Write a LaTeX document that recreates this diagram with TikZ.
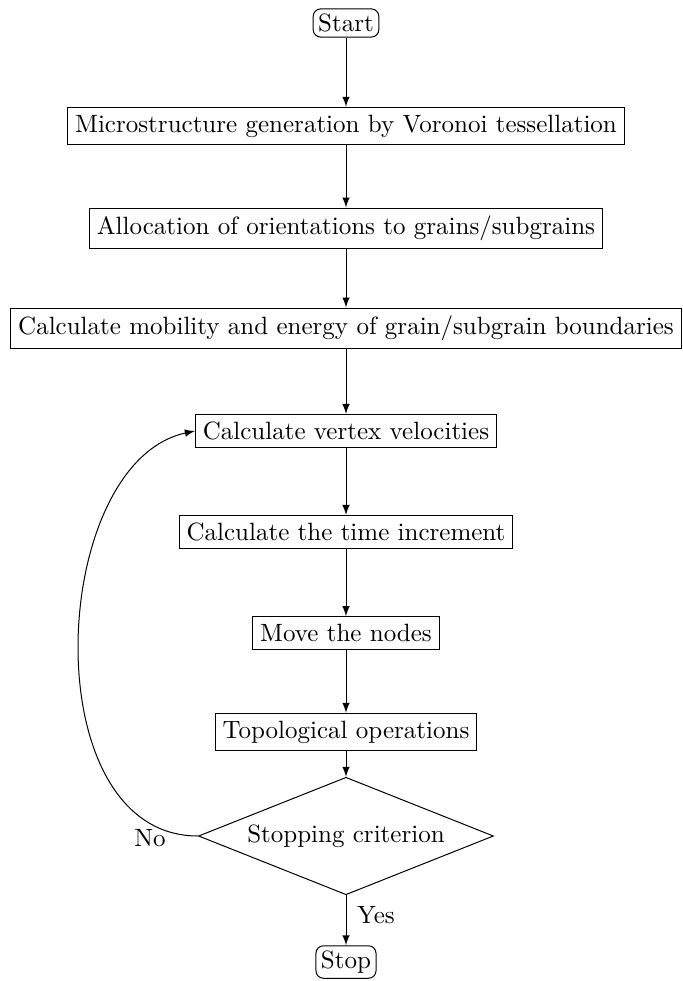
\documentclass[tikz,border=0pt]{standalone}
\usetikzlibrary{shapes.geometric,arrows}
\begin{document}
\begin{tikzpicture}[x=0.4pt,y=-0.4pt,
  box/.style={draw,rectangle,inner sep=3pt},
  term/.style={draw,rectangle,rounded corners=3pt,inner sep=2pt},
  dec/.style={draw,diamond,aspect=2.5,inner sep=0pt,minimum width=118pt,minimum height=47pt},
  arr/.style={-latex,thin},
  lbl/.style={inner sep=0pt}]
\useasboundingbox (0,0) rectangle (682,981);
\node[term] (start) at (346,23) {Start};
\node[box] (gen) at (346,126) {Microstructure generation by Voronoi tessellation};
\node[box] (alloc) at (346,228) {Allocation of orientations to grains/subgrains};
\node[box] (mob) at (346,328) {Calculate mobility and energy of grain/subgrain boundaries};
\node[box] (vel) at (346,431) {Calculate vertex velocities};
\node[box] (dt) at (346,532) {Calculate the time increment};
\node[box] (move) at (346,633) {Move the nodes};
\node[box] (topo) at (346,732) {Topological operations};
\node[dec] (stop) at (346,836) {Stopping criterion};
\node[term] (end) at (346,962) {Stop};
\node[lbl] (no) at (150,838) {No};
\node[lbl] (yes) at (376,915) {Yes};
\draw[arr] (start) -- (gen);
\draw[arr] (gen) -- (alloc);
\draw[arr] (alloc) -- (mob);
\draw[arr] (mob) -- (vel);
\draw[arr] (vel) -- (dt);
\draw[arr] (dt) -- (move);
\draw[arr] (move) -- (topo);
\draw[arr] (topo) -- (stop);
\draw[arr] (stop) -- (end);
\draw[arr] (stop.west) .. controls (32,836) and (48,462) .. (vel.west);
\end{tikzpicture}
\end{document}
